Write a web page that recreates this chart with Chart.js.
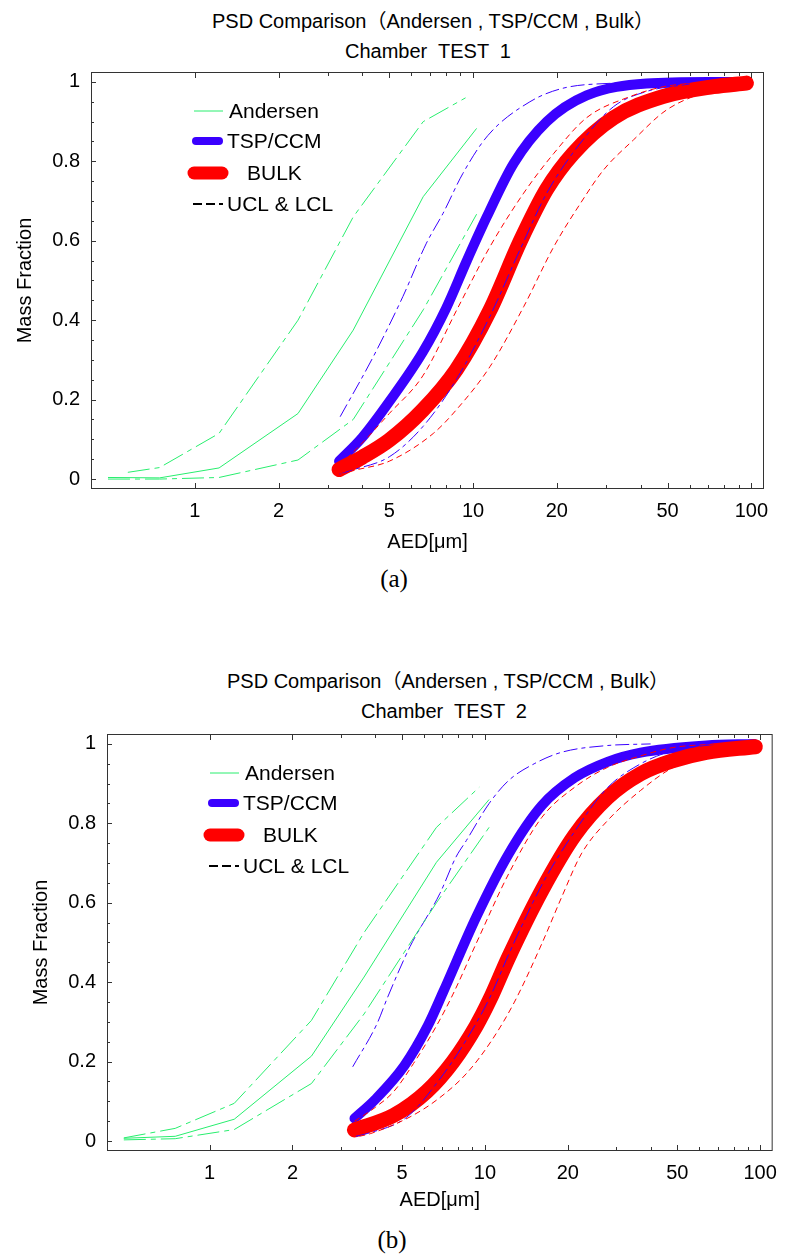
<!DOCTYPE html>
<html>
<head>
<meta charset="utf-8">
<script src="https://cdn.jsdelivr.net/npm/chart.js@4.4.1/dist/chart.umd.min.js"></script>
<style>
  html, body { margin: 0; padding: 0; background: #fff; }
  body { position: relative; width: 787px; height: 1257px; overflow: hidden;
         font-family: "Liberation Sans", Arial, "Noto Sans CJK JP", sans-serif; color: #000; }
  canvas { position: absolute; left: 0; }
  .ttl { position: absolute; width: 700px; text-align: center; font-size: 20px; line-height: 24px; white-space: pre; }
  .cap { position: absolute; width: 100px; text-align: center; font-family: "Liberation Serif", "Times New Roman", serif;
         font-size: 25px; line-height: 30px; }
</style>
</head>
<body>
<div class="ttl" style="left:83px;top:9px">PSD Comparison（Andersen , TSP/CCM , Bulk）</div>
<div class="ttl" style="left:78px;top:39px">Chamber  TEST  1</div>
<canvas id="chartA" width="787" height="559" style="top:0px"></canvas>
<div class="cap" style="left:344px;top:564px">(a)</div>

<div class="ttl" style="left:98px;top:669px">PSD Comparison（Andersen , TSP/CCM , Bulk）</div>
<div class="ttl" style="left:94px;top:699px">Chamber  TEST  2</div>
<canvas id="chartB" width="787" height="561" style="top:660px"></canvas>
<div class="cap" style="left:342px;top:1225px">(b)</div>

<script>
// ---- Chamber TEST 1 ----
const AND_A_X = [0.488, 0.748, 1.223, 2.35, 3.71, 6.62, 10.3];
const AND_A = [0.004, 0.003, 0.028, 0.165, 0.375, 0.711, 0.883];
const AND_A_UCL_X = [0.575, 0.748, 1.223, 2.35, 3.71, 6.62, 9.4];
const AND_A_UCL = [0.017, 0.029, 0.115, 0.40, 0.66, 0.90, 0.96];
const AND_A_LCL = [0.0, 0.0, 0.004, 0.048, 0.15, 0.426, 0.667];

const TSP_A_X = [3.3, 4.0, 5.0, 6.6, 8.0, 9.5, 11.2, 14.0, 18.4, 25.6, 42, 70, 90];
const TSP_A = [0.045, 0.105, 0.195, 0.32, 0.43, 0.55, 0.66, 0.795, 0.90, 0.966, 0.996, 1.0, 1.0];
const TSP_A_UCL_X = [3.33, 4.38, 5.6, 6.8, 7.8, 9.2, 11.3, 16, 21, 32, 45];
const TSP_A_UCL = [0.157, 0.308, 0.46, 0.594, 0.669, 0.77, 0.865, 0.95, 0.984, 0.997, 1.0];
const TSP_A_LCL_X = [3.3, 3.7, 5.0, 6.6, 8.7, 11.5, 14.8, 18.4, 24.3, 32, 42, 60];
const TSP_A_LCL = [0.012, 0.023, 0.056, 0.132, 0.25, 0.41, 0.58, 0.72, 0.846, 0.938, 0.976, 0.995];

const BULK_A_X = [3.3, 4.0, 5.0, 6.6, 8.7, 11.5, 14.8, 18.4, 22.9, 32, 48, 73, 96];
const BULK_A = [0.024, 0.055, 0.098, 0.174, 0.275, 0.425, 0.60, 0.73, 0.82, 0.91, 0.963, 0.988, 0.997];
const BULK_A_UCL_X = [3.3, 3.8, 5.0, 6.6, 8.8, 11.5, 15.2, 19.5, 25.6, 36.6, 48.4, 70];
const BULK_A_UCL = [0.035, 0.075, 0.165, 0.26, 0.43, 0.585, 0.72, 0.82, 0.91, 0.963, 0.988, 1.0];
const BULK_A_LCL_X = [3.3, 3.8, 5.0, 7.2, 8.7, 11.5, 15.2, 19.5, 24.3, 29.4, 37.7, 49.7, 73, 100];
const BULK_A_LCL = [0.012, 0.023, 0.045, 0.115, 0.174, 0.283, 0.434, 0.585, 0.694, 0.778, 0.854, 0.93, 0.98, 1.0];

// ---- Chamber TEST 2 ----
const AND_B_X = [0.488, 0.75, 1.229, 2.345, 3.64, 6.67, 10.36];
const AND_B = [0.007, 0.012, 0.055, 0.214, 0.413, 0.702, 0.86];
const AND_B_UCL_X = [0.488, 0.75, 1.229, 2.345, 3.64, 6.67, 9.54];
const AND_B_UCL = [0.008, 0.032, 0.095, 0.304, 0.525, 0.79, 0.891];
const AND_B_LCL = [0.003, 0.006, 0.029, 0.145, 0.32, 0.60, 0.79];

const TSP_B_X = [3.36, 4.0, 5.1, 6.2, 7.05, 9.3, 12.2, 16.1, 21.2, 27.9, 36.8, 63.7, 95];
const TSP_B = [0.057, 0.105, 0.19, 0.29, 0.375, 0.564, 0.723, 0.845, 0.915, 0.955, 0.978, 0.996, 1.0];
const TSP_B_UCL_X = [3.31, 4.06, 4.42, 5.35, 6.86, 7.85, 8.57, 10.36, 12.2, 15.1, 19, 27.9, 40];
const TSP_B_UCL = [0.187, 0.296, 0.36, 0.49, 0.623, 0.715, 0.757, 0.85, 0.908, 0.95, 0.979, 0.996, 1.0];
const TSP_B_LCL_X = [3.4, 3.74, 5.2, 6.67, 8.3, 10.4, 12.2, 16.1, 21.2, 27.9, 36.8, 48.3, 70];
const TSP_B_LCL = [0.012, 0.019, 0.06, 0.145, 0.24, 0.36, 0.47, 0.645, 0.78, 0.89, 0.95, 0.983, 1.0];

const BULK_B_X = [3.36, 4.67, 6.15, 7.66, 9.3, 10.4, 12.2, 16.1, 21.2, 27.9, 36.8, 48.3, 63.7, 96];
const BULK_B = [0.028, 0.065, 0.125, 0.2, 0.29, 0.355, 0.463, 0.631, 0.77, 0.865, 0.925, 0.958, 0.979, 0.993];
const BULK_B_UCL_X = [3.36, 4.0, 4.67, 5.5, 6.67, 7.66, 9.29, 12.2, 16.1, 21.2, 27.9, 36.8, 48.3, 70];
const BULK_B_UCL = [0.05, 0.085, 0.125, 0.195, 0.29, 0.37, 0.497, 0.673, 0.815, 0.891, 0.941, 0.97, 0.991, 1.0];
const BULK_B_LCL_X = [3.5, 3.85, 5.35, 6.67, 8.57, 10.6, 12.8, 16.1, 19.0, 22.4, 27.9, 36.8, 48.3, 63.7, 100];
const BULK_B_LCL = [0.012, 0.019, 0.061, 0.103, 0.17, 0.254, 0.35, 0.497, 0.614, 0.723, 0.807, 0.883, 0.941, 0.971, 0.995];

// axis ticks
const X_TICKS = [1, 2, 5, 10, 20, 50, 100];
const X_MINOR = [1, 2, 3, 4, 5, 6, 7, 8, 9, 10, 20, 30, 40, 50, 60, 70, 80, 90, 100];
const Y_TICKS = [0, 0.2, 0.4, 0.6, 0.8, 1];

const GREEN = 'rgb(40,238,110)';
const BLUE = '#3a00ff';
const RED = '#ff0000';
const FONT = { family: '"Liberation Sans", Arial, sans-serif', size: 20 };

const pts = (X, Y) => X.map((x, i) => ({ x, y: Y[i] }));

const STYLE = {
  andersen: { borderColor: GREEN, borderWidth: 1, tension: 0, order: 0 },
  andersenCL: { borderColor: GREEN, borderWidth: 1, tension: 0, borderDash: [22, 5, 5, 5], order: 0 },
  tsp: { borderColor: BLUE, borderWidth: 10, cubicInterpolationMode: 'monotone', borderCapStyle: 'round', borderJoinStyle: 'round', order: 4 },
  tspCL: { borderColor: BLUE, borderWidth: 1, cubicInterpolationMode: 'monotone', borderDash: [14, 4, 4, 4], order: 2 },
  bulk: { borderColor: RED, borderWidth: 15, cubicInterpolationMode: 'monotone', borderCapStyle: 'round', borderJoinStyle: 'round', order: 3 },
  bulkCL: { borderColor: RED, borderWidth: 1, cubicInterpolationMode: 'monotone', borderDash: [6, 4], order: 1 },
};

function ds(X, Y, style) {
  return { data: pts(X, Y), pointRadius: 0, fill: false, ...STYLE[style] };
}

// frame + inward ticks, Mathematica style
const framePlugin = {
  id: 'frame',
  afterDatasetsDraw(chart) {
    const { ctx, chartArea: a, scales: { x, y } } = chart;
    ctx.save();
    ctx.strokeStyle = '#333';
    ctx.lineWidth = 1;
    ctx.strokeRect(a.left + 0.5, a.top + 0.5, a.right - a.left - 1, a.bottom - a.top - 1);
    ctx.beginPath();
    for (const v of X_MINOR) {
      const px = Math.round(x.getPixelForValue(v)) + 0.5;
      const len = X_TICKS.includes(v) ? 6 : 4;
      ctx.moveTo(px, a.bottom); ctx.lineTo(px, a.bottom - len);
      ctx.moveTo(px, a.top); ctx.lineTo(px, a.top + len);
    }
    for (let i = 0; i <= 20; i++) {
      const py = Math.round(y.getPixelForValue(i / 20)) + 0.5;
      const len = i % 4 === 0 ? 5 : 3;
      ctx.moveTo(a.left, py); ctx.lineTo(a.left + len, py);
    }
    ctx.stroke();
    ctx.restore();
  }
};

// legend drawn inside the plot, top-left
const LEGEND = [
  { text: 'Andersen', color: GREEN, width: 1, dash: [], x1: 103, x2: 132, tx: 138, y: 39 },
  { text: 'TSP/CCM', color: BLUE, width: 8, dash: [], x1: 105, x2: 128, tx: 136, y: 69 },
  { text: 'BULK', color: RED, width: 13, dash: [], x1: 103, x2: 131, tx: 156, y: 101 },
  { text: 'UCL & LCL', color: '#000', width: 2, dash: [9, 4], x1: 102, x2: 132, tx: 136, y: 132 },
];

const legendPlugin = {
  id: 'psdLegend',
  afterDatasetsDraw(chart) {
    const { ctx, chartArea: a } = chart;
    ctx.save();
    ctx.font = '21px "Liberation Sans", Arial, sans-serif';
    ctx.textBaseline = 'middle';
    ctx.fillStyle = '#000';
    for (const it of LEGEND) {
      ctx.beginPath();
      ctx.strokeStyle = it.color;
      ctx.lineWidth = it.width;
      ctx.lineCap = it.width > 2 ? 'round' : 'butt';
      ctx.setLineDash(it.dash);
      ctx.moveTo(a.left + it.x1, a.top + it.y);
      ctx.lineTo(a.left + it.x2, a.top + it.y);
      ctx.stroke();
      ctx.fillText(it.text, a.left + it.tx, a.top + it.y + 1);
    }
    ctx.restore();
  }
};

function makeChart(id, datasets, box) {
  return new Chart(document.getElementById(id), {
    type: 'line',
    data: { datasets },
    options: {
      responsive: false,
      animation: false,
      events: [],
      layout: { padding: { top: box.top, right: box.right, left: 0, bottom: 0 } },
      plugins: { legend: { display: false }, tooltip: { enabled: false } },
      scales: {
        x: {
          type: 'logarithmic', min: 0.424, max: 111,
          grid: { display: false, drawTicks: false }, border: { display: false },
          afterBuildTicks: s => { s.ticks = X_TICKS.map(v => ({ value: v })); },
          afterFit: s => { s.height = 70; },
          ticks: { padding: 10, autoSkip: false, maxRotation: 0, font: FONT, color: '#000', callback: v => String(v) },
          title: { display: true, text: 'AED[μm]', font: FONT, color: '#000', padding: { top: 0, bottom: box.xTitlePad } }
        },
        y: {
          type: 'linear', min: -0.025, max: 1.025,
          grid: { display: false, drawTicks: false }, border: { display: false },
          afterBuildTicks: s => { s.ticks = Y_TICKS.map(v => ({ value: v })); },
          afterFit: s => { s.width = box.left; },
          ticks: { padding: 11, font: FONT, color: '#000', callback: v => String(v) },
          title: { display: true, text: 'Mass Fraction', font: FONT, color: '#000', padding: { top: box.yTitlePad, bottom: 0 } }
        }
      }
    },
    plugins: [framePlugin, legendPlugin]
  });
}

makeChart('chartA', [
  ds(AND_A_X, AND_A, 'andersen'),
  ds(AND_A_UCL_X, AND_A_UCL, 'andersenCL'),
  ds(AND_A_X, AND_A_LCL, 'andersenCL'),
  ds(TSP_A_X, TSP_A, 'tsp'),
  ds(TSP_A_UCL_X, TSP_A_UCL, 'tspCL'),
  ds(TSP_A_LCL_X, TSP_A_LCL, 'tspCL'),
  ds(BULK_A_X, BULK_A, 'bulk'),
  ds(BULK_A_UCL_X, BULK_A_UCL, 'bulkCL'),
  ds(BULK_A_LCL_X, BULK_A_LCL, 'bulkCL'),
], { top: 72, right: 23, left: 91, xTitlePad: 5, yTitlePad: 13 });

makeChart('chartB', [
  ds(AND_B_X, AND_B, 'andersen'),
  ds(AND_B_UCL_X, AND_B_UCL, 'andersenCL'),
  ds(AND_B_X, AND_B_LCL, 'andersenCL'),
  ds(TSP_B_X, TSP_B, 'tsp'),
  ds(TSP_B_UCL_X, TSP_B_UCL, 'tspCL'),
  ds(TSP_B_LCL_X, TSP_B_LCL, 'tspCL'),
  ds(BULK_B_X, BULK_B, 'bulk'),
  ds(BULK_B_UCL_X, BULK_B_UCL, 'bulkCL'),
  ds(BULK_B_LCL_X, BULK_B_LCL, 'bulkCL'),
], { top: 74, right: 7, left: 107, xTitlePad: 9, yTitlePad: 29 });
</script>
</body>
</html>
